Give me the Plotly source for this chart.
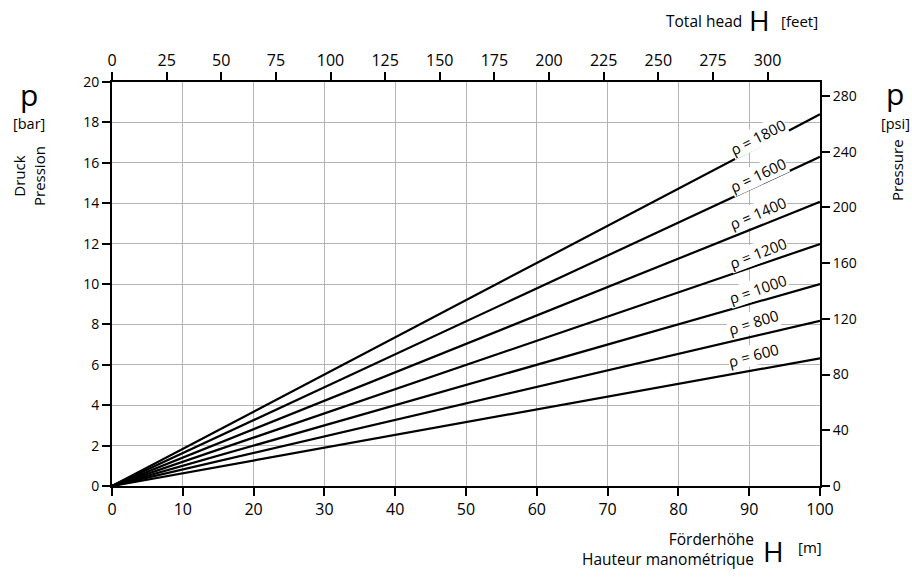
import plotly.graph_objects as go

# ---- data ----
densities = [600, 800, 1000, 1200, 1400, 1600, 1800]          # rho [kg/m3]
head_m = [0, 100]                                              # H [m]
p_at_100m = [6.32, 8.18, 10.0, 11.98, 14.07, 16.30, 18.40]     # p [bar] at H = 100 m

x_ticks_m = list(range(0, 101, 10))
x_ticks_ft = list(range(0, 301, 25))
y_ticks_bar = list(range(0, 21, 2))
y_ticks_psi = list(range(0, 281, 40))

BAR_TO_PSI = 14.5038
FT_RANGE = 324  # top axis extent in feet

# label placement (style, not data)
label_x = [90.6, 90.6, 91.2, 91.2, 91.2, 91.2, 91.2]
label_shift = [15, 14, 12.5, 12.5, 14, 11, 10]
label_angle = [15, 17, 19, 21, 23, 25, 27]

FONT = "Open Sans"

fig = go.Figure()
for rho, p in zip(densities, p_at_100m):
    fig.add_trace(go.Scatter(
        x=head_m, y=[0, p], mode="lines",
        line=dict(color="black", width=2.2),
        showlegend=False, hoverinfo="skip", name=f"ρ = {rho}"))

# invisible trace for secondary axes
fig.add_trace(go.Scatter(x=[0, FT_RANGE], y=[0, 20 * BAR_TO_PSI], xaxis="x2", yaxis="y2",
                         mode="markers", marker=dict(opacity=0), showlegend=False,
                         hoverinfo="skip"))

annotations = []
for i, (rho, p) in enumerate(zip(densities, p_at_100m)):
    xl = label_x[i]
    annotations.append(dict(
        x=xl, y=p * xl / 100, xref="x", yref="y", yshift=label_shift[i],
        text=f"ρ = {rho}", showarrow=False, textangle=-label_angle[i],
        font=dict(family=FONT, size=15, color="black"),
        bgcolor="white", borderpad=0))

# page-pixel -> paper (plot area) coordinates; plot area is x 112..820, y 82..486
PL, PR, PT, PB = 112, 820, 82, 486
def px(xp): return (xp - PL) / (PR - PL)
def py(yp): return (PB - yp) / (PB - PT)

def txt(x, y, text, size, xanchor="center", yanchor="middle", angle=0, align="center"):
    annotations.append(dict(x=px(x), y=py(y), xref="paper", yref="paper", text=text,
                            showarrow=False, xanchor=xanchor, yanchor=yanchor,
                            textangle=angle, align=align,
                            font=dict(family=FONT, size=size, color="black")))

# left
txt(29, 94, "p", 30)
txt(29, 123, "[bar]", 14.5)
txt(29, 176, "Druck<br>Pression", 15, angle=-90)
# right
txt(895, 93, "p", 30)
txt(895, 123, "[psi]", 14.5)
txt(897, 170, "Pressure", 15, angle=-90)
# top
txt(744, 21, "Total head", 15.5, xanchor="right")
txt(759, 20, "H", 28)
txt(779, 21, "[feet]", 15, xanchor="left")
# bottom
txt(756, 549, "Förderhöhe<br>Hauteur manométrique", 15.5, xanchor="right", align="right")
txt(773, 551, "H", 28)
txt(796, 547, "[m]", 15, xanchor="left")

axis_common = dict(showline=True, linecolor="black", linewidth=2,
                   ticks="outside", ticklen=8, tickwidth=1.5, tickcolor="black",
                   zeroline=False)

W, H = 912, 578
fig.update_layout(
    width=W, height=H,
    margin=dict(l=PL, r=W - PR, t=PT, b=H - PB),
    plot_bgcolor="white", paper_bgcolor="white",
    showlegend=False,
    xaxis=dict(range=[0, 100], tickvals=x_ticks_m, showgrid=True,
               gridcolor="#b4b4b4", gridwidth=1,
               tickfont=dict(family=FONT, size=16, color="black"), **axis_common),
    yaxis=dict(range=[0, 20], tickvals=y_ticks_bar, showgrid=True,
               gridcolor="#b4b4b4", gridwidth=1,
               tickfont=dict(family=FONT, size=14, color="black"), **axis_common),
    xaxis2=dict(range=[0, FT_RANGE], tickvals=x_ticks_ft, overlaying="x", side="top",
                showgrid=False, tickfont=dict(family=FONT, size=16, color="black"),
                **axis_common),
    yaxis2=dict(range=[0, 20 * BAR_TO_PSI], tickvals=y_ticks_psi, overlaying="y",
                side="right", showgrid=False,
                tickfont=dict(family=FONT, size=14, color="black"), **axis_common),
    annotations=annotations,
)

fig.write_html("out.html", config={"displayModeBar": False},
               post_script="document.body.style.margin='0';document.body.style.overflow='hidden';")
